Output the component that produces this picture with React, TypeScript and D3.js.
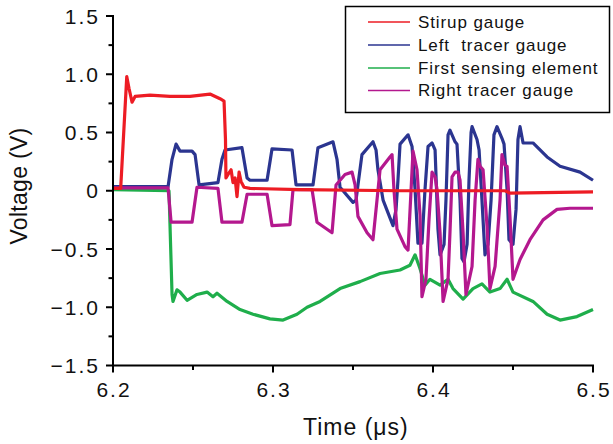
import React from "react";
import * as d3 from "d3";

// ---- Data (time in µs, voltage in V) ----
const stirupT = [6.2, 6.2048, 6.2086, 6.21, 6.2119, 6.2138, 6.2231, 6.2356, 6.2481, 6.2606, 6.2669, 6.2694, 6.2703, 6.2706, 6.2719, 6.2738, 6.275, 6.2763, 6.2775, 6.2788, 6.28, 6.2819, 6.2856, 6.3169, 6.3794, 6.445, 6.4481, 6.5];
const stirupV = [0.02, 0.02, 0.98, 0.88, 0.76, 0.81, 0.82, 0.81, 0.81, 0.83, 0.79, 0.77, 0.44, 0.11, 0.14, 0.18, 0.07, 0.11, -0.05, 0.16, 0.08, 0.03, 0.02, 0.01, 0.0, 0.0, -0.02, -0.01];

const leftT = [6.2, 6.2344, 6.2369, 6.2394, 6.2419, 6.2494, 6.2513, 6.2538, 6.2656, 6.2681, 6.27, 6.2806, 6.2838, 6.2856, 6.2963, 6.2994, 6.3119, 6.3144, 6.325, 6.3281, 6.3375, 6.34, 6.3419, 6.35, 6.3519, 6.3531, 6.3556, 6.3625, 6.3644, 6.3656, 6.3688, 6.375, 6.3769, 6.3781, 6.3794, 6.3844, 6.3869, 6.3888, 6.3906, 6.3931, 6.395, 6.3969, 6.3994, 6.4013, 6.4031, 6.4044, 6.4069, 6.4081, 6.4094, 6.4106, 6.4138, 6.415, 6.4169, 6.4181, 6.4194, 6.4213, 6.4225, 6.4238, 6.4244, 6.4275, 6.4288, 6.4306, 6.4325, 6.4344, 6.4363, 6.4381, 6.44, 6.4431, 6.4444, 6.4463, 6.4475, 6.45, 6.4519, 6.4531, 6.4544, 6.4563, 6.4625, 6.4713, 6.4794, 6.4919, 6.5];
const leftV = [0.035, 0.035, 0.27, 0.4, 0.34, 0.34, 0.31, 0.05, 0.07, 0.27, 0.35, 0.37, 0.11, 0.09, 0.09, 0.36, 0.35, 0.05, 0.05, 0.37, 0.42, 0.27, 0.03, -0.1, -0.08, 0.05, 0.31, 0.42, 0.35, 0.18, -0.08, -0.3, -0.16, 0.09, 0.4, 0.48, 0.38, 0.01, -0.45, -0.45, 0.01, 0.38, 0.41, 0.35, -0.33, -0.55, -0.46, -0.08, 0.48, 0.52, 0.42, 0.4, -0.08, -0.58, -0.61, -0.46, 0.09, 0.5, 0.55, 0.44, 0.35, -0.08, -0.55, -0.46, -0.08, 0.48, 0.55, 0.45, 0.4, 0.01, -0.42, -0.46, -0.16, 0.44, 0.55, 0.41, 0.41, 0.29, 0.21, 0.16, 0.09];

const firstT = [6.2, 6.235, 6.2369, 6.2375, 6.24, 6.2419, 6.2463, 6.2525, 6.2588, 6.2625, 6.265, 6.2713, 6.2794, 6.2875, 6.2981, 6.3063, 6.315, 6.3213, 6.3294, 6.3419, 6.3544, 6.3669, 6.3794, 6.3856, 6.3888, 6.3919, 6.395, 6.3981, 6.4044, 6.4094, 6.4125, 6.4188, 6.425, 6.4306, 6.4356, 6.4419, 6.4463, 6.45, 6.4625, 6.4713, 6.4794, 6.49, 6.5];
const firstV = [0.01, 0.0, -0.89, -0.95, -0.85, -0.87, -0.94, -0.89, -0.87, -0.91, -0.88, -0.95, -1.02, -1.06, -1.1, -1.11, -1.06, -1.0, -0.95, -0.84, -0.78, -0.71, -0.68, -0.64, -0.55, -0.67, -0.81, -0.76, -0.81, -0.76, -0.84, -0.93, -0.84, -0.8, -0.87, -0.84, -0.76, -0.87, -0.95, -1.06, -1.11, -1.08, -1.02];

const rightT = [6.2, 6.2344, 6.2363, 6.2494, 6.2525, 6.2656, 6.2681, 6.2806, 6.2838, 6.2963, 6.2994, 6.3106, 6.3125, 6.3244, 6.3275, 6.3369, 6.3394, 6.345, 6.3494, 6.3513, 6.3531, 6.3588, 6.3625, 6.365, 6.3669, 6.3731, 6.3744, 6.3756, 6.3775, 6.3825, 6.3844, 6.3863, 6.3875, 6.39, 6.3919, 6.3931, 6.3956, 6.3975, 6.3994, 6.4013, 6.4025, 6.4044, 6.4063, 6.4094, 6.4106, 6.4119, 6.4138, 6.4156, 6.4169, 6.4188, 6.4206, 6.4244, 6.4263, 6.4281, 6.4294, 6.4313, 6.4338, 6.4356, 6.4388, 6.4419, 6.4431, 6.445, 6.4463, 6.4481, 6.45, 6.4544, 6.4606, 6.4688, 6.4775, 6.4856, 6.5];
const rightV = [0.025, 0.025, -0.27, -0.27, 0.03, 0.02, -0.27, -0.27, -0.03, -0.03, -0.3, -0.29, 0.01, 0.01, -0.27, -0.36, 0.05, 0.14, 0.16, 0.05, -0.22, -0.36, -0.42, -0.08, 0.18, 0.29, 0.31, 0.01, -0.33, -0.48, -0.51, 0.01, 0.34, 0.18, -0.21, -0.91, -0.76, -0.25, 0.16, 0.12, 0.01, -0.36, -0.95, -0.76, -0.36, 0.12, 0.16, 0.16, 0.09, -0.36, -0.89, -0.65, -0.08, 0.27, 0.21, 0.18, -0.31, -0.84, -0.65, -0.08, 0.31, 0.22, 0.21, -0.22, -0.76, -0.59, -0.42, -0.25, -0.16, -0.15, -0.15];

const seriesNames = ["Stirup gauge", "Left  tracer gauge", "First sensing element", "Right tracer gauge"];
const seriesColors = ["#ed1c24", "#2b3590", "#1fae4b", "#b4188e"];

const xTicks = [6.2, 6.3, 6.4, 6.5];
const xMinorTicks = [6.25, 6.35, 6.45];
const yTicks = [-1.5, -1.0, -0.5, 0, 0.5, 1.0, 1.5];
const yMinorTicks = [-1.25, -0.75, -0.25, 0.25, 0.75, 1.25];

const W = 613;
const H = 444;

export default function App() {
  const x = d3.scaleLinear().domain([6.2, 6.5]).range([113, 593]);
  const y = d3.scaleLinear().domain([-1.5, 1.5]).range([365.5, 16]);

  const series = [
    { name: seriesNames[0], color: seriesColors[0], t: stirupT, v: stirupV },
    { name: seriesNames[1], color: seriesColors[1], t: leftT, v: leftV },
    { name: seriesNames[2], color: seriesColors[2], t: firstT, v: firstV },
    { name: seriesNames[3], color: seriesColors[3], t: rightT, v: rightV },
  ];
  const line = d3
    .line<[number, number]>()
    .x((d) => x(d[0]))
    .y((d) => y(d[1]));

  const drawOrder = [1, 2, 3, 0];
  const fmtY = (v: number) => (v === 0 ? "0" : (v < 0 ? "\u2212" : "") + Math.abs(v).toFixed(1));
  const font = "'Liberation Sans', Arial, sans-serif";

  return (
    <svg
      width={W}
      height={H}
      style={{ position: "absolute", left: 0, top: 0, background: "#fff" }}
      fontFamily={font}
    >
      <rect x={0} y={0} width={W} height={H} fill="#fff" />
      {/* series */}
      {drawOrder.map((i) => {
        const s = series[i];
        const pts = s.t.map((t, k) => [t, s.v[k]] as [number, number]);
        return (
          <path
            key={s.name}
            d={line(pts) || ""}
            fill="none"
            stroke={s.color}
            strokeWidth={3.2}
            strokeLinejoin="round"
          />
        );
      })}
      {/* axes */}
      <line x1={x(6.2)} x2={x(6.2)} y1={y(1.5) - 1} y2={y(-1.5) + 1} stroke="#000" strokeWidth={2} />
      <line x1={x(6.2) - 1} x2={x(6.5) + 1} y1={y(-1.5)} y2={y(-1.5)} stroke="#000" strokeWidth={2} />
      {yTicks.map((v) => (
        <g key={"yt" + v}>
          <line x1={x(6.2) - 7} x2={x(6.2)} y1={y(v)} y2={y(v)} stroke="#000" strokeWidth={2} />
          <text
            x={100}
            y={y(v) + 7.5}
            textAnchor="end"
            fontSize={21}
            letterSpacing={2}
            fill="#111"
          >
            {fmtY(v)}
          </text>
        </g>
      ))}
      {yMinorTicks.map((v) => (
        <line key={"ym" + v} x1={x(6.2) - 4.5} x2={x(6.2)} y1={y(v)} y2={y(v)} stroke="#000" strokeWidth={2} />
      ))}
      {xTicks.map((t) => (
        <g key={"xt" + t}>
          <line x1={x(t)} x2={x(t)} y1={y(-1.5)} y2={y(-1.5) + 7} stroke="#000" strokeWidth={2} />
          <text x={x(t) + 1} y={397} textAnchor="middle" fontSize={21} letterSpacing={2} fill="#111">
            {t.toFixed(1)}
          </text>
        </g>
      ))}
      {xMinorTicks.map((t) => (
        <line key={"xm" + t} x1={x(t)} x2={x(t)} y1={y(-1.5)} y2={y(-1.5) + 4.5} stroke="#000" strokeWidth={2} />
      ))}
      {/* axis titles */}
      <text
        transform="translate(27,186) rotate(-90)"
        textAnchor="middle"
        fontSize={23}
        letterSpacing={0.3}
        fill="#111"
      >
        Voltage (V)
      </text>
      <text x={303} y={435} fontSize={23} letterSpacing={1} fill="#111">
        Time (μs)
      </text>
      {/* legend */}
      <rect x={345.5} y={6.5} width={264} height={106} fill="#fff" stroke="#000" strokeWidth={1.5} />
      {series.map((s, i) => {
        const ry = [22, 45, 68, 90.5][i];
        return (
          <g key={"lg" + i}>
            <line x1={368} x2={410} y1={ry} y2={ry} stroke={s.color} strokeWidth={1.6} />
            <text
              x={418}
              y={ry + 5.5}
              fontSize={17}
              letterSpacing={0.9}
              fill="#111"
              style={{ whiteSpace: "pre" }}
            >
              {s.name}
            </text>
          </g>
        );
      })}
    </svg>
  );
}
